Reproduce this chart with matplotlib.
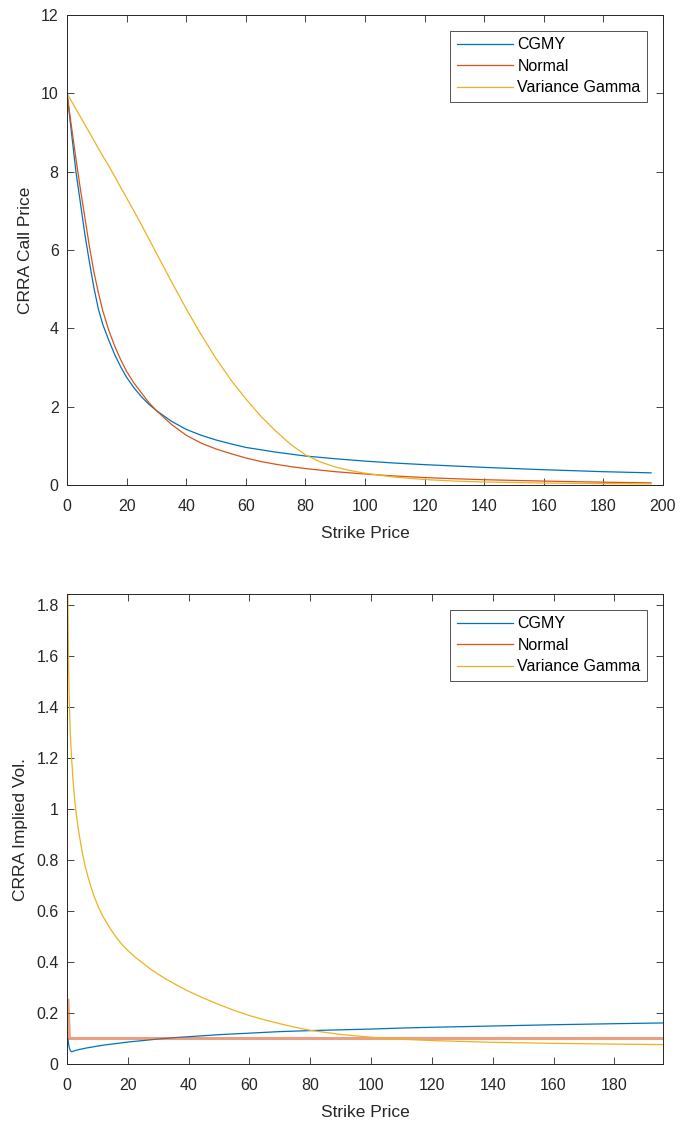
import matplotlib
matplotlib.use('Agg')
import matplotlib.pyplot as plt
from matplotlib.ticker import FuncFormatter

plt.rcParams['font.family'] = ['Liberation Sans', 'DejaVu Sans']

# call prices vs strike
strike = [0, 1.5, 3, 4.5, 6, 7.5, 9, 10.5, 12, 14, 16, 18, 20, 22.5, 25, 27.5, 30,
          35, 40, 45, 50, 55, 60, 65, 70, 75, 80, 85, 90, 95, 100, 110, 120, 130,
          140, 160, 180, 196]
call_cgmy = [10, 9.0, 8.0, 7.2, 6.4, 5.7, 5.05, 4.5, 4.1, 3.7, 3.33, 3.02, 2.75, 2.48,
             2.25, 2.06, 1.9, 1.63, 1.42, 1.27, 1.15, 1.05, 0.96, 0.9, 0.84, 0.79,
             0.74, 0.705, 0.67, 0.64, 0.61, 0.56, 0.52, 0.485, 0.45, 0.39, 0.34, 0.31]
call_normal = [10, 9.15, 8.33, 7.55, 6.83, 6.1, 5.45, 4.92, 4.45, 3.95, 3.55, 3.2, 2.9,
               2.6, 2.35, 2.1, 1.9, 1.55, 1.27, 1.07, 0.92, 0.8, 0.69, 0.6, 0.53, 0.47,
               0.42, 0.38, 0.34, 0.31, 0.28, 0.23, 0.19, 0.16, 0.135, 0.1, 0.072, 0.055]
call_vg = [10, 9.8, 9.6, 9.4, 9.2, 9.0, 8.8, 8.6, 8.4, 8.15, 7.88, 7.6, 7.33, 6.99, 6.64,
           6.28, 5.92, 5.2, 4.5, 3.84, 3.23, 2.68, 2.2, 1.76, 1.38, 1.04, 0.77, 0.59,
           0.46, 0.37, 0.3, 0.2, 0.14, 0.1, 0.077, 0.05, 0.035, 0.03]

# implied vols vs strike
strike_vol = [0.3, 0.4, 0.5, 0.65, 0.8, 1.1, 1.5, 2, 2.5, 3, 3.5, 4, 5, 6, 7, 8, 9,
              10.5, 12, 14, 16, 18, 20, 22.5, 25, 27.5, 30, 33, 36, 40, 45, 50, 55,
              60, 65, 70, 75, 80, 90, 100, 110, 120, 140, 160, 180, 196]
vol_cgmy = [0.1, 0.09, 0.082, 0.07, 0.062, 0.052, 0.048, 0.05, 0.052, 0.054, 0.055,
            0.057, 0.059, 0.062, 0.064, 0.066, 0.068, 0.071, 0.074, 0.077, 0.08, 0.083,
            0.086, 0.089, 0.092, 0.095, 0.098, 0.101, 0.104, 0.107, 0.111, 0.115,
            0.118, 0.121, 0.124, 0.127, 0.129, 0.131, 0.134, 0.137, 0.141, 0.144,
            0.149, 0.154, 0.158, 0.161]
vol_vg = [1.84, 1.68, 1.58, 1.48, 1.4, 1.29, 1.2, 1.11, 1.04, 0.985, 0.94, 0.9, 0.83,
          0.775, 0.73, 0.69, 0.655, 0.61, 0.575, 0.535, 0.5, 0.47, 0.445, 0.418, 0.395,
          0.372, 0.352, 0.33, 0.31, 0.285, 0.258, 0.233, 0.21, 0.19, 0.173, 0.158,
          0.144, 0.132, 0.116, 0.105, 0.097, 0.092, 0.085, 0.081, 0.078, 0.076]
strike_normal = [0.3, 0.8, 196]
vol_normal = [0.25, 0.1, 0.1]

names = ['CGMY', 'Normal', 'Variance Gamma']
colors = ['#0072BD', '#D95319', '#EDB120']
dark = '#262626'

fig = plt.figure(figsize=(6.8, 11.22), dpi=100)
ax1 = fig.add_axes([67/680, 1 - 485/1122, 596/680, 470/1122])
ax2 = fig.add_axes([67/680, 1 - 1064/1122, 596/680, 470/1122])

ax1.plot(strike, call_cgmy, color=colors[0], lw=0.9, label=names[0])
ax1.plot(strike, call_normal, color=colors[1], lw=0.9, label=names[1])
ax1.plot(strike, call_vg, color=colors[2], lw=0.9, label=names[2])
ax1.set_xlim(0, 200)
ax1.set_ylim(0, 12)
ax1.set_xticks(range(0, 201, 20))
ax1.set_yticks(range(0, 13, 2))
ax1.set_ylabel('CRRA Call Price', fontsize=12.5, color=dark, labelpad=6)

ax2.plot(strike_vol, vol_cgmy, color=colors[0], lw=0.9, label=names[0])
ax2.plot(strike_normal, vol_normal, color=colors[1], lw=2.2, alpha=0.55, label=names[1])
ax2.plot(strike_vol, vol_vg, color=colors[2], lw=0.9, label=names[2])
ax2.set_xlim(0, 196)
ax2.set_ylim(0, 1.843)
ax2.set_xticks(range(0, 181, 20))
ax2.set_yticks([0, 0.2, 0.4, 0.6, 0.8, 1.0, 1.2, 1.4, 1.6, 1.8])
ax2.yaxis.set_major_formatter(FuncFormatter(lambda v, p: f'{v:g}'))
ax2.set_ylabel('CRRA Implied Vol.', fontsize=12.5, color=dark, labelpad=6)

for ax in (ax1, ax2):
    ax.set_xlabel('Strike Price', fontsize=12.5, color=dark, labelpad=9)
    ax.tick_params(direction='in', length=5, width=0.6, top=True, right=True,
                   labelsize=11.5, colors=dark)
    ax.tick_params(axis='x', pad=10)
    ax.tick_params(axis='y', pad=6)
    for s in ax.spines.values():
        s.set_color(dark)
        s.set_linewidth(0.7)
    leg = ax.legend(loc='upper right', fontsize=11.5, frameon=True, fancybox=False,
                    edgecolor=dark, handlelength=3.5, borderaxespad=1.0,
                    labelspacing=0.4, handletextpad=0.3, borderpad=0.4)
    leg.get_frame().set_linewidth(0.7)
    for h in leg.legend_handles:
        h.set_alpha(1)
        h.set_linewidth(0.9)

fig.savefig('out.png', dpi=100)
